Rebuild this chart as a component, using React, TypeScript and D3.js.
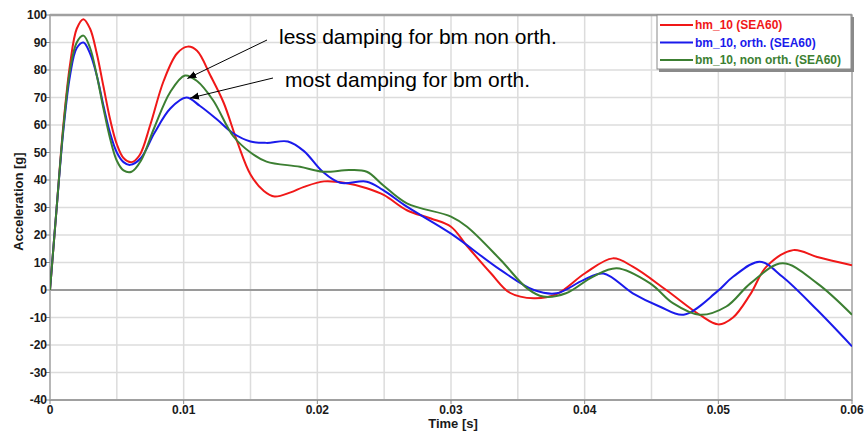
import React from "react";
import * as d3 from "d3";

// time [s] / acceleration [g]
const hm10: [number, number][] = [
  [0, 0], [0.0005, 30], [0.001, 60], [0.0015, 82], [0.002, 95], [0.0025, 98.5], [0.003, 95],
  [0.0035, 86], [0.004, 74], [0.0045, 62], [0.005, 53], [0.0055, 48], [0.0061, 46.5], [0.0067, 49],
  [0.0075, 60], [0.0085, 76], [0.0095, 86], [0.0103, 88.5], [0.011, 87], [0.012, 78], [0.013, 68],
  [0.014, 54], [0.015, 42], [0.016, 36], [0.0168, 34], [0.018, 35.5], [0.019, 37.5], [0.0205, 39.5],
  [0.022, 39], [0.0237, 37], [0.025, 34.5], [0.0267, 29], [0.0285, 26], [0.03, 23], [0.0312, 16],
  [0.033, 6], [0.0344, -1], [0.0362, -3], [0.0379, -1.5], [0.04, 6], [0.0421, 11.5], [0.0436, 8.5],
  [0.0461, 0], [0.0486, -9], [0.05, -12.5], [0.0511, -10], [0.0524, -1.5], [0.0536, 8.5],
  [0.0556, 14.5], [0.0574, 12], [0.06, 9],
];

const bmOrth: [number, number][] = [
  [0, 0], [0.0005, 30], [0.001, 58], [0.0015, 78], [0.002, 88], [0.0025, 90], [0.003, 86],
  [0.0035, 78], [0.004, 67], [0.0045, 57], [0.005, 50], [0.0055, 46.5], [0.006, 45.5], [0.0068, 48],
  [0.0078, 57], [0.009, 66], [0.0102, 70], [0.0112, 67], [0.0125, 62], [0.0137, 57], [0.015, 54],
  [0.0162, 53.5], [0.0178, 54], [0.019, 50.5], [0.0204, 43], [0.0217, 39], [0.0237, 39.4],
  [0.0249, 36.4], [0.0267, 30.3], [0.03, 20.5], [0.0337, 7.3], [0.0362, 0], [0.0379, -1.2],
  [0.0399, 3.6], [0.0414, 6], [0.0436, -1.2], [0.0456, -6], [0.0474, -9], [0.0499, -0.6],
  [0.0511, 4.8], [0.0531, 10.3], [0.0548, 4.8], [0.0574, -7.3], [0.06, -20.5],
];

const bmNonOrth: [number, number][] = [
  [0, 0], [0.0005, 30], [0.001, 59], [0.0015, 80], [0.002, 90], [0.0025, 92.5], [0.003, 88],
  [0.0035, 78], [0.004, 66], [0.0045, 55], [0.005, 47], [0.0055, 43.5], [0.0061, 43], [0.0068, 47],
  [0.0078, 59], [0.009, 72], [0.0101, 78], [0.011, 76], [0.0122, 69], [0.0137, 56], [0.015, 50],
  [0.0162, 46.7], [0.0187, 44.8], [0.0204, 43], [0.0224, 43.6], [0.0237, 43], [0.0249, 38.2],
  [0.0267, 31.5], [0.03, 26.7], [0.0312, 23], [0.0337, 11], [0.0357, 0.6], [0.0369, -2.4],
  [0.0386, -1.2], [0.0406, 4.8], [0.0424, 7.9], [0.0449, 2.4], [0.0466, -4.8], [0.0486, -9],
  [0.0506, -6], [0.0524, 2.4], [0.0548, 9.7], [0.0574, 2.4], [0.06, -9],
];

const seriesNames = ["hm_10 (SEA60)", "bm_10, orth. (SEA60)", "bm_10, non orth. (SEA60)"];
const seriesColors = ["#f01818", "#1a1aeb", "#3c7f32"];
const seriesData = [hm10, bmOrth, bmNonOrth];

const xTicks = [0, 0.01, 0.02, 0.03, 0.04, 0.05, 0.06];
const xGrid = d3.range(0, 0.0601, 0.005);
const yTicks = d3.range(-40, 101, 10);

// annotation text with the point each arrow points to
const notes = [
  { text: "less damping for bm non orth.", tip: [0.0102, 78] as [number, number] },
  { text: "most damping for bm orth.", tip: [0.0104, 70.5] as [number, number] },
];

const width = 866;
const height = 432;
const margin = { top: 15, right: 14, bottom: 32, left: 50 };
const font = "'Liberation Sans', Arial, sans-serif";

export default function App() {
  const x = d3.scaleLinear().domain([0, 0.06]).range([margin.left, width - margin.right]);
  const y = d3.scaleLinear().domain([-40, 100]).range([height - margin.bottom, margin.top]);
  const line = d3.line<[number, number]>()
    .x(d => x(d[0]))
    .y(d => y(d[1]))
    .curve(d3.curveCatmullRom.alpha(0.5));

  const [x0, x1] = x.range();
  const [y0, y1] = y.range();

  const legX = 657;
  const legY = y1;
  const legW = x1 - legX;
  const legH = 55;

  return (
    <div style={{ position: "absolute", left: 0, top: 0 }}>
      <svg width={width} height={height} style={{ background: "#fff", display: "block" }}>
        <defs>
          <marker id="arrow" viewBox="0 0 10 10" refX="10" refY="5" markerWidth="9" markerHeight="9" orient="auto">
            <path d="M0,1 L10,5 L0,9 Z" fill="#000" />
          </marker>
          <clipPath id="plot">
            <rect x={x0} y={y1} width={x1 - x0} height={y0 - y1} />
          </clipPath>
        </defs>

        {/* grid */}
        {xGrid.map(t => (
          <line key={"gx" + t} x1={x(t)} x2={x(t)} y1={y1} y2={y0} stroke="#dcdcdc" strokeWidth={1.5} />
        ))}
        {yTicks.map(v => (
          <line key={"gy" + v} x1={x0} x2={x1} y1={y(v)} y2={y(v)} stroke="#dcdcdc" strokeWidth={1.5} />
        ))}
        <line x1={x0} x2={x1} y1={y(0)} y2={y(0)} stroke="#9a9a9a" strokeWidth={2} />

        {/* frame */}
        <rect x={x0} y={y1} width={x1 - x0} height={y0 - y1} fill="none" stroke="#a8a8a8" strokeWidth={1.5} />
        <line x1={x0} x2={x1} y1={y1} y2={y1} stroke="#a0a0a0" strokeWidth={2.5} />
        <line x1={x0} x2={x1} y1={y0} y2={y0} stroke="#a0a0a0" strokeWidth={2} />

        {/* y axis */}
        {yTicks.map(v => (
          <g key={"ty" + v}>
            <line x1={x0 - 4} x2={x0} y1={y(v)} y2={y(v)} stroke="#888" strokeWidth={1} />
            <text x={x0 - 3} y={y(v)} dy="0.36em" textAnchor="end" fontFamily={font} fontWeight="bold" fontSize={12} fill="#1a1a1a">
              {v}
            </text>
          </g>
        ))}
        <text
          transform={`translate(23,${(y0 + y1) / 2 - 6}) rotate(-90)`}
          textAnchor="middle"
          fontFamily={font}
          fontWeight="bold"
          fontSize={13}
          fill="#1a1a1a"
        >
          Acceleration [g]
        </text>

        {/* x axis */}
        {xTicks.map(t => (
          <g key={"tx" + t}>
            <line x1={x(t)} x2={x(t)} y1={y0} y2={y0 + 4} stroke="#888" strokeWidth={1} />
            <text x={x(t)} y={y0 + 14} textAnchor="middle" fontFamily={font} fontWeight="bold" fontSize={12} fill="#1a1a1a">
              {t === 0 ? "0" : d3.format(".2f")(t)}
            </text>
          </g>
        ))}
        <text x={(x0 + x1) / 2 + 2} y={y0 + 28} textAnchor="middle" fontFamily={font} fontWeight="bold" fontSize={13} fill="#1a1a1a">
          Time [s]
        </text>

        {/* series */}
        <g clipPath="url(#plot)">
          {seriesData.map((d, i) => (
            <path key={seriesNames[i]} d={line(d) || ""} fill="none" stroke={seriesColors[i]} strokeWidth={2} strokeLinejoin="round" />
          ))}
        </g>

        {/* annotations */}
        <line x1={267} y1={40} x2={x(notes[0].tip[0]) + 1} y2={y(notes[0].tip[1]) + 3} stroke="#000" strokeWidth={1} markerEnd="url(#arrow)" />
        <text x={279} y={44} fontFamily={font} fontSize={21} fill="#000">{notes[0].text}</text>
        <line x1={273} y1={78} x2={x(notes[1].tip[0]) + 1} y2={y(notes[1].tip[1]) + 2} stroke="#000" strokeWidth={1} markerEnd="url(#arrow)" />
        <text x={285} y={87} fontFamily={font} fontSize={21} fill="#000">{notes[1].text}</text>

        {/* legend */}
        <rect x={legX + 2} y={legY + 2} width={legW} height={legH} fill="#8a8a8a" />
        <rect x={legX} y={legY} width={legW - 1} height={legH - 1} fill="#fff" stroke="#8a8a8a" strokeWidth={1} />
        {seriesNames.map((name, i) => (
          <g key={"leg" + name} transform={`translate(${legX + 3},${legY + 10 + i * 17.5})`}>
            <line x1={0} x2={33} y1={0} y2={0} stroke={seriesColors[i]} strokeWidth={2} />
            <text x={35} y={0} dy="0.36em" fontFamily={font} fontWeight="bold" fontSize={12} fill={seriesColors[i]}>
              {name}
            </text>
          </g>
        ))}
      </svg>
    </div>
  );
}
